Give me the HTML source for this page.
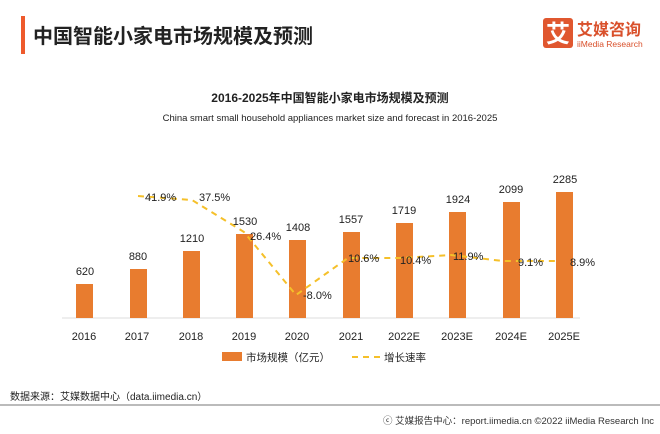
<!DOCTYPE html><html><head><meta charset="utf-8"><style>
body{margin:0;width:660px;height:429px;background:#fff;overflow:hidden;font-family:"Liberation Sans","Noto Sans CJK SC",sans-serif;}
</style></head><body>
<svg width="660" height="429" xmlns="http://www.w3.org/2000/svg" font-family="Liberation Sans, Noto Sans CJK SC, sans-serif">
<rect x="21" y="16" width="4" height="38" fill="#ee5a2c"/>
<text x="33" y="43" font-size="20" font-weight="bold" fill="#222">中国智能小家电市场规模及预测</text>
<rect x="543" y="18" width="30" height="30" rx="3" fill="#e0572f"/>
<text x="558" y="42" font-size="24" font-weight="bold" fill="#fff" text-anchor="middle">艾</text>
<text x="577" y="35" font-size="16" font-weight="bold" fill="#d9502b">艾媒咨询</text>
<text x="577" y="47" font-size="8.5" fill="#d9502b">iiMedia Research</text>
<text x="330" y="102" font-size="12" font-weight="bold" fill="#222" text-anchor="middle">2016-2025年中国智能小家电市场规模及预测</text>
<text x="330" y="121" font-size="9.5" fill="#222" text-anchor="middle">China smart small household appliances market size and forecast in 2016-2025</text>
<line x1="62" y1="318" x2="580" y2="318" stroke="#ddd"/>
<g fill="#e87c2f">
<rect x="76" y="284" width="17" height="34"/>
<rect x="130" y="269" width="17" height="49"/>
<rect x="183" y="251" width="17" height="67"/>
<rect x="236" y="234" width="17" height="84"/>
<rect x="289" y="240" width="17" height="78"/>
<rect x="343" y="232" width="17" height="86"/>
<rect x="396" y="223" width="17" height="95"/>
<rect x="449" y="212" width="17" height="106"/>
<rect x="503" y="202" width="17" height="116"/>
<rect x="556" y="192" width="17" height="126"/>
</g>
<polyline points="138,196 192,200 244,232 296,295 348,258 400,258 451,255 503,261 556,261" fill="none" stroke="#f5c02a" stroke-width="2" stroke-dasharray="6,5"/>
<g font-size="11" fill="#222" text-anchor="middle">
<text x="85" y="275">620</text><text x="138" y="260">880</text><text x="192" y="242">1210</text><text x="245" y="225">1530</text><text x="298" y="231">1408</text><text x="351" y="223">1557</text><text x="404" y="214">1719</text><text x="458" y="203">1924</text><text x="511" y="193">2099</text><text x="565" y="183">2285</text>
</g>
<g font-size="11" fill="#222">
<text x="145" y="201">41.9%</text><text x="199" y="201">37.5%</text><text x="250" y="240">26.4%</text><text x="303" y="299">-8.0%</text><text x="348" y="262">10.6%</text><text x="400" y="264">10.4%</text><text x="453" y="260">11.9%</text><text x="518" y="266">9.1%</text><text x="570" y="266">8.9%</text>
</g>
<g font-size="11" fill="#222" text-anchor="middle">
<text x="84" y="340">2016</text><text x="137" y="340">2017</text><text x="191" y="340">2018</text><text x="244" y="340">2019</text><text x="297" y="340">2020</text><text x="351" y="340">2021</text><text x="404" y="340">2022E</text><text x="457" y="340">2023E</text><text x="511" y="340">2024E</text><text x="564" y="340">2025E</text>
</g>
<rect x="222" y="352" width="20" height="9" fill="#e87c2f"/>
<text x="246" y="361" font-size="10.5" fill="#222">市场规模（亿元）</text>
<line x1="352" y1="357" x2="380" y2="357" stroke="#f5c02a" stroke-width="2" stroke-dasharray="6,5"/>
<text x="384" y="361" font-size="10.5" fill="#222">增长速率</text>
<text x="10" y="400" font-size="10" fill="#222">数据来源：艾媒数据中心（data.iimedia.cn）</text>
<line x1="0" y1="405" x2="660" y2="405" stroke="#777" stroke-width="1"/>
<text x="654" y="424" font-size="9.5" fill="#333" text-anchor="end">ⓒ 艾媒报告中心：report.iimedia.cn   ©2022  iiMedia Research  Inc</text>
</svg>
</body></html>
